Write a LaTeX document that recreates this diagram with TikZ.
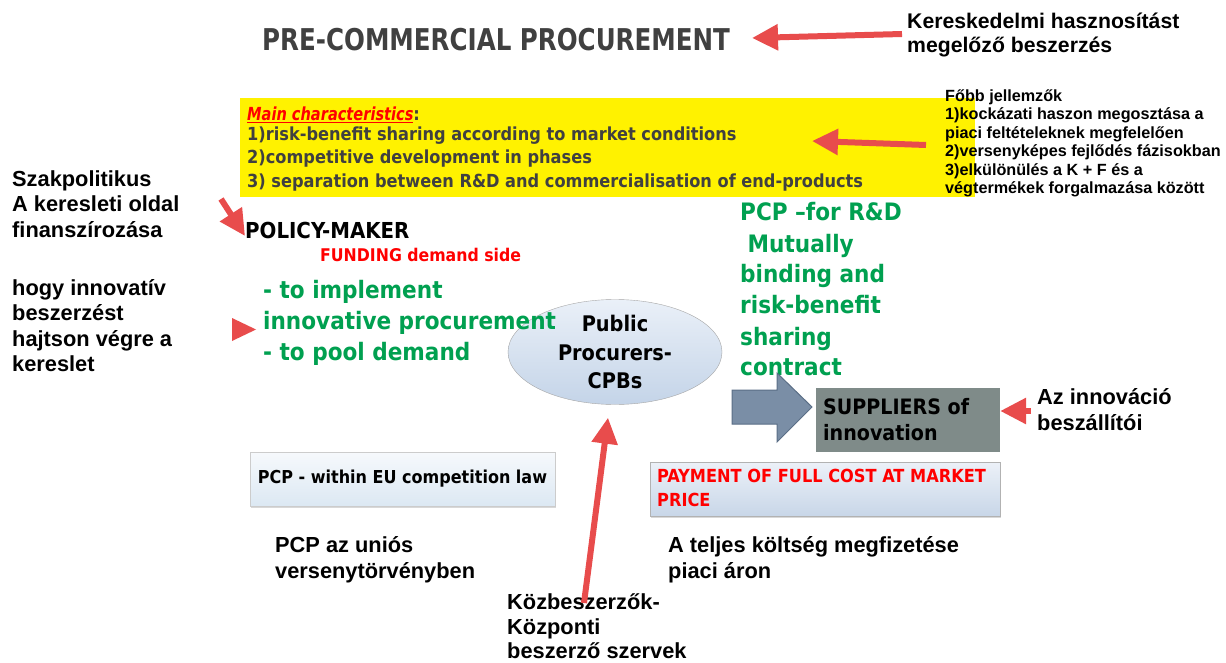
\documentclass[tikz,border=0pt]{standalone}
\usepackage{fontspec}
\setmainfont{Liberation Sans}
\newfontfamily\tah{DejaVu Sans Condensed}
\usetikzlibrary{arrows.meta,shapes.geometric,shadows}
\definecolor{arrred}{RGB}{232,76,76}
\definecolor{pcpgreen}{RGB}{0,160,80}
\definecolor{dgray}{RGB}{64,64,64}
\definecolor{suppl}{RGB}{127,139,137}
\definecolor{blockfill}{RGB}{122,142,166}
\definecolor{blockdraw}{RGB}{90,110,134}
\definecolor{ellt}{RGB}{234,240,248}
\definecolor{ellb}{RGB}{196,212,232}
\definecolor{boxt}{RGB}{246,249,252}
\definecolor{boxb}{RGB}{220,232,243}
\definecolor{payt}{RGB}{236,241,248}
\definecolor{payb}{RGB}{200,214,232}
\begin{document}
\begin{tikzpicture}[x=1pt,y=-1pt,
  hu/.style={font=\bfseries\fontsize{21.8}{25}\selectfont, inner sep=0, anchor=base west},
  hut/.style={font=\bfseries\fontsize{21.2}{25}\selectfont, inner sep=0, anchor=base west},
  hus/.style={font=\bfseries\fontsize{16.2}{18}\selectfont, inner sep=0, anchor=base west},
  tb/.style={inner sep=0, anchor=base west},
  grn/.style={tb, text=pcpgreen, font=\tah\bfseries\fontsize{24}{30}\selectfont},
  yl/.style={tb, text=dgray, font=\tah\bfseries\fontsize{18}{22}\selectfont},
  redarrow/.style={draw=arrred, line width=6, -{Triangle[length=26pt,width=25pt]}},
]
\useasboundingbox (0,0) rectangle (1226,663);
\fill[white] (0,0) rectangle (1226,663);

% title
\node[tb, text=dgray, font=\tah\bfseries\fontsize{30}{34}\selectfont] (title) at (262,51) {\scalebox{0.91}[1]{PRE-COMMERCIAL PROCUREMENT}};
\node[hut] (k1) at (907,29) {Kereskedelmi hasznosítást};
\node[hut] (k2) at (907,53) {megelőző beszerzés};
\coordinate (a1s) at (902,34);
\coordinate (a1e) at (752,38);
\draw[redarrow] (a1s) -- (a1e);

% yellow box
\fill[yellow] (240,98) rectangle (975,197);
\node[yl] (mc) at (247,121) {{\color{red}\underline{\itshape\scalebox{0.9}[1]{Main characteristics}}}:};
\node[yl] (mc1) at (247,141) {1)risk-benefit sharing according to market conditions};
\node[yl] (mc2) at (247,164) {2)competitive development in phases};
\node[yl] (mc3) at (247,188) {3) separation between R\&D and commercialisation of end-products};

\node[hus] (f0) at (945,102) {Főbb jellemzők};
\node[hus] (f1) at (945,120) {1)kockázati haszon megosztása a};
\node[hus] (f2) at (945,138.5) {piaci feltételeknek megfelelően};
\node[hus] (f3) at (945,157) {2)versenyképes fejlődés fázisokban};
\node[hus] (f4) at (945,175.5) {3)elkülönülés a K + F és a};
\node[hus] (f5) at (945,194) {végtermékek forgalmazása között};
\coordinate (a2s) at (926,145);
\coordinate (a2e) at (812,141);
\draw[redarrow] (a2s) -- (a2e);

% left texts
\node[hu] (s1) at (12,187) {Szakpolitikus};
\node[hu] (s2) at (12,212) {A keresleti oldal};
\node[hu] (s3) at (12,237) {finanszírozása};
\node[hu] (h1) at (12,295) {hogy innovatív};
\node[hu] (h2) at (12,320) {beszerzést};
\node[hu] (h3) at (12,346) {hajtson végre a};
\node[hu] (h4) at (12,371) {kereslet};

% policy maker
\node[tb, font=\tah\bfseries\fontsize{22}{26}\selectfont] (pm) at (245,239) {POLICY-MAKER};
\node[tb, text=red, font=\tah\bfseries\fontsize{17.5}{20}\selectfont] (fund) at (320,261) {FUNDING demand side};
\coordinate (a3s) at (221,199);
\coordinate (a3e) at (245,236);
\draw[redarrow] (a3s) -- (a3e);

% ellipse
\node[ellipse, draw=gray!70, top color=ellt, bottom color=ellb, minimum width=214, minimum height=105,
      align=center, font=\tah\bfseries\fontsize{21.5}{28.5}\selectfont, inner sep=0] (pp) at (615,352)
      {Public\\Procurers-\\CPBs};

\node[grn] (g1) at (263,298) {- to implement};
\node[grn] (g2) at (263,329) {innovative procurement};
\node[grn] (g3) at (263,360) {- to pool demand};
\fill[arrred] (232,318) -- (256,329.5) -- (232,341) -- cycle;

% green right
\node[grn] (r1) at (740,221) {PCP –for R\&D};
\node[grn] (r2) at (740,252) {\ Mutually};
\node[grn] (r3) at (740,282) {binding and};
\node[grn] (r4) at (740,313) {risk-benefit};
\node[grn] (r5) at (740,345) {sharing};
\node[grn] (r6) at (740,375) {contract};

% block arrow and suppliers
\filldraw[fill=blockfill, draw=blockdraw, line width=1]
  (732,390) -- (777,390) -- (777,373) -- (812,407) -- (777,442) -- (777,424) -- (732,424) -- cycle;
\node[fill=suppl, minimum width=184, minimum height=64, inner sep=0] (sup) at (908,420) {};
\node[tb, font=\tah\bfseries\fontsize{21.2}{26}\selectfont] (sup1) at (823,414) {SUPPLIERS of};
\node[tb, font=\tah\bfseries\fontsize{21.2}{26}\selectfont] (sup2) at (823,440) {innovation};
\node[hu] (az1) at (1037,404) {Az innováció};
\node[hu] (az2) at (1037,430) {beszállítói};
\coordinate (a4s) at (1031,411);
\draw[redarrow] (a4s) -- (sup.east |- a4s);

% PCP box
\node[draw=gray!40, top color=boxt, bottom color=boxb, minimum width=305, minimum height=54, inner sep=0,
      drop shadow={shadow xshift=1pt, shadow yshift=-2pt, opacity=0.3},
      font=\tah\bfseries\fontsize{17.8}{20}\selectfont] (pcp) at (402.5,479) {PCP - within EU competition law};

% payment box
\node[draw=gray!60, top color=payt, bottom color=payb, minimum width=350, minimum height=54, inner sep=0,
      drop shadow={shadow xshift=1pt, shadow yshift=-2pt, opacity=0.3}] (pay) at (825,489) {};
\node[tb, text=red, font=\tah\bfseries\fontsize{18}{20}\selectfont] (pay1) at (657,482) {PAYMENT OF FULL COST AT MARKET};
\node[tb, text=red, font=\tah\bfseries\fontsize{18}{20}\selectfont] (pay2) at (657,506) {PRICE};

% bottom texts
\node[hu] (u1) at (275,552) {PCP az uniós};
\node[hu] (u2) at (275,578) {versenytörvényben};
\node[hu] (t1) at (668,552) {A teljes költség megfizetése};
\node[hu] (t2) at (668,578) {piaci áron};
\node[hu] (kb1) at (507,609) {Közbeszerzők-};
\node[hu] (kb2) at (507,634) {Központi};
\node[hu] (kb3) at (507,658) {beszerző szervek};
\coordinate (a5s) at (584,603);
\draw[redarrow] (a5s) -- ([xshift=-7pt,yshift=-13pt]pp.south);
\end{tikzpicture}
\end{document}
